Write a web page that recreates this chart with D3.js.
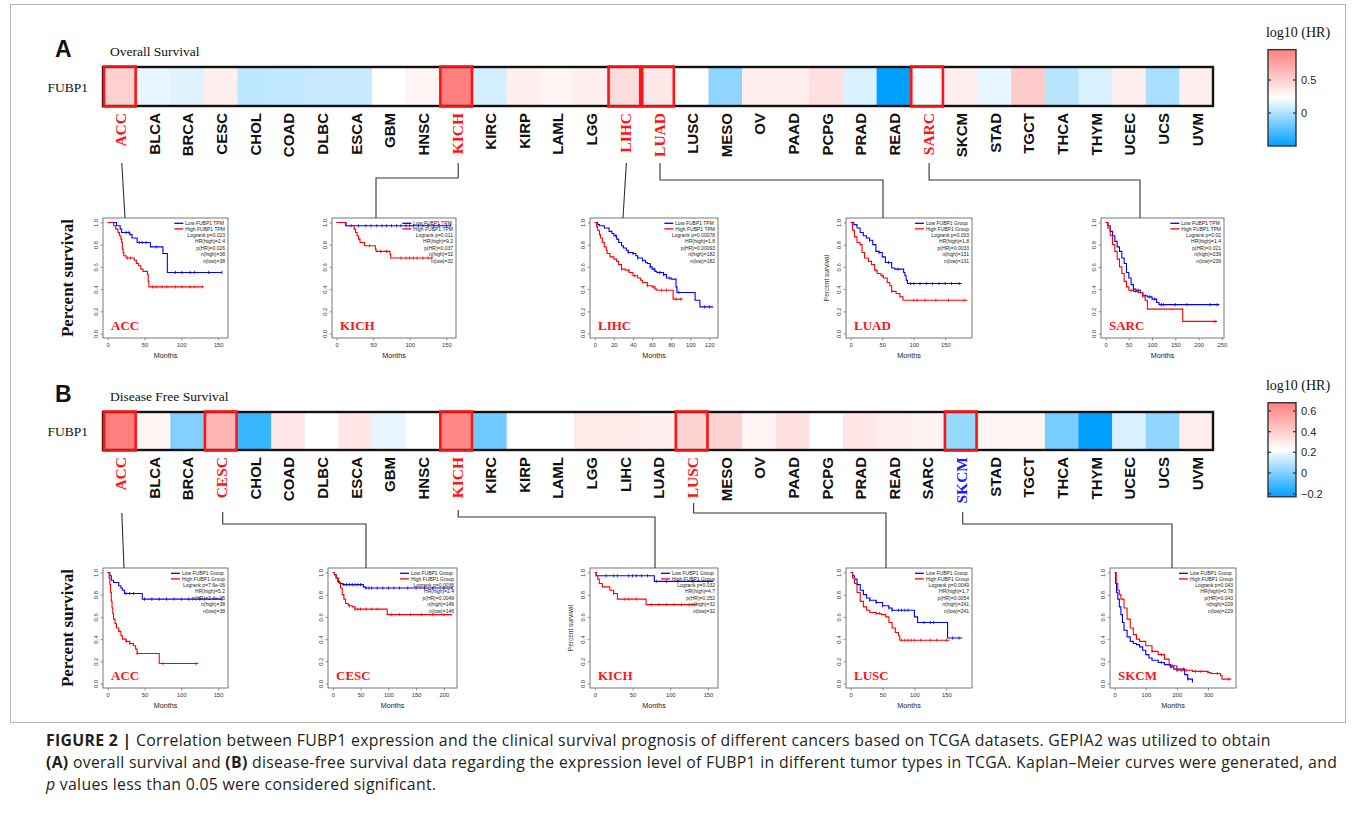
<!DOCTYPE html>
<html><head><meta charset="utf-8">
<script src="https://cdn.jsdelivr.net/npm/d3@7"></script>
<style>body{margin:0;background:#fff}svg{display:block}</style>
</head><body>
<svg id="c" width="1355" height="820"></svg>
<script>
// ---------------- DATA ----------------
const cancers = ["ACC","BLCA","BRCA","CESC","CHOL","COAD","DLBC","ESCA","GBM","HNSC","KICH","KIRC","KIRP","LAML","LGG","LIHC","LUAD","LUSC","MESO","OV","PAAD","PCPG","PRAD","READ","SARC","SKCM","STAD","TGCT","THCA","THYM","UCEC","UCS","UVM"];
// log10(HR), overall survival
const osLogHR = [0.50,0.16,0.14,0.32,0.04,0.05,0.07,0.07,0.23,0.29,0.96,0.10,0.32,0.29,0.32,0.43,0.36,0.23,-0.09,0.33,0.33,0.41,0.12,-0.50,0.21,0.32,0.16,0.52,0.03,0.12,0.32,-0.02,0.32];
// log10(HR), disease free survival
const dfsLogHR = [0.68,0.26,0.00,0.49,-0.13,0.31,0.225,0.31,0.18,0.225,0.65,-0.03,0.225,0.225,0.30,0.30,0.28,0.38,0.38,0.265,0.33,0.225,0.31,0.29,0.27,0.04,0.265,0.265,-0.015,-0.23,0.155,0.025,0.29];
const osSignificant = ["ACC","KICH","LIHC","LUAD","SARC"];
const dfsSignificant = ["ACC","CESC","KICH","LUSC","SKCM"];
const dfsFavourable = ["SKCM"];
const osColorDomain = [-0.5, 0.23, 0.96];
const dfsColorDomain = [-0.23, 0.225, 0.68];
const osBarTicks = [0, 0.5];
const dfsBarTicks = [-0.2, 0, 0.2, 0.4, 0.6];
const probTicks = [0, 0.2, 0.4, 0.6, 0.8, 1.0];

// Kaplan-Meier curves: [months, survival]
const osAccLow  = [[0,1],[12,0.97],[17,0.94],[19,0.91],[30,0.89],[33,0.86],[40,0.82],[58,0.78],[75,0.72],[81,0.55],[155,0.55]];
const osAccHigh = [[0,1],[8,0.97],[11,0.94],[14,0.91],[16,0.88],[18,0.85],[19,0.82],[20,0.76],[21,0.73],[22,0.70],[25,0.68],[36,0.66],[39,0.63],[42,0.61],[45,0.58],[48,0.56],[54,0.53],[55,0.47],[56,0.42],[130,0.42]];
const osAccLowC = [25,29,43,47,52,66,92,101,112,118,137,155];
const osAccHighC = [27,31,61,66,74,80,92,101,112,118,129];
const osKichLow  = [[0,1],[13,0.97],[156,0.97]];
const osKichHigh = [[0,1],[12,0.97],[24,0.94],[26,0.91],[28,0.88],[30,0.85],[32,0.82],[38,0.79],[53,0.76],[54,0.74],[73,0.71],[74,0.68],[132,0.68]];
const osKichLowC = [20,30,40,47,55,62,68,75,82,88,95,100,105,112,118,125,133,140,150,156];
const osKichHighC = [45,60,68,88,95,100,105,110,118,125,130];
const osLihcLow  = [[0,1],[3,0.98],[5,0.97],[10,0.95],[15,0.92],[18,0.90],[20,0.88],[23,0.85],[25,0.82],[28,0.79],[30,0.77],[33,0.75],[35,0.73],[40,0.72],[43,0.70],[45,0.68],[50,0.66],[53,0.64],[55,0.63],[58,0.60],[60,0.58],[63,0.56],[65,0.55],[72,0.53],[75,0.50],[80,0.49],[85,0.42],[86,0.37],[104,0.37],[105,0.30],[110,0.24],[124,0.24]];
const osLihcHigh = [[0,1],[2,0.96],[3,0.93],[5,0.89],[6,0.86],[8,0.82],[10,0.78],[12,0.75],[13,0.72],[16,0.69],[20,0.67],[23,0.65],[25,0.62],[28,0.58],[32,0.57],[36,0.55],[40,0.52],[45,0.50],[48,0.48],[50,0.46],[55,0.43],[60,0.42],[63,0.40],[65,0.39],[81,0.39],[82,0.31],[92,0.31]];
const osLihcLowC = [22,35,40,45,50,58,62,68,72,78,88,115,120];
const osLihcHighC = [28,35,42,55,62,70,75,85,90];
const osLuadLow  = [[0,1],[5,0.98],[10,0.95],[15,0.91],[20,0.88],[25,0.86],[30,0.84],[35,0.80],[40,0.74],[45,0.73],[50,0.69],[55,0.64],[63,0.64],[65,0.59],[70,0.58],[82,0.58],[84,0.55],[86,0.52],[88,0.48],[90,0.45],[176,0.45]];
const osLuadHigh = [[0,1],[3,0.93],[6,0.87],[10,0.82],[15,0.80],[18,0.73],[22,0.68],[28,0.65],[33,0.62],[38,0.57],[42,0.54],[48,0.52],[52,0.50],[58,0.46],[62,0.43],[65,0.38],[72,0.36],[78,0.33],[83,0.30],[185,0.30]];
const osLuadLowC = [30,45,60,75,95,100,110,120,130,140,150,160,172];
const osLuadHighC = [40,50,65,100,105,118,135,155,180];
const osSarcLow  = [[0,1],[5,0.97],[10,0.92],[15,0.88],[20,0.83],[25,0.78],[30,0.74],[35,0.68],[40,0.63],[45,0.55],[50,0.50],[55,0.44],[60,0.40],[65,0.39],[75,0.37],[80,0.34],[90,0.33],[100,0.31],[110,0.28],[115,0.26],[245,0.26]];
const osSarcHigh = [[0,1],[5,0.95],[10,0.88],[15,0.80],[20,0.74],[25,0.67],[30,0.60],[35,0.54],[40,0.47],[45,0.42],[50,0.39],[60,0.38],[70,0.37],[80,0.34],[85,0.30],[90,0.22],[165,0.22],[166,0.11],[240,0.11]];
const osSarcLowC = [60,70,80,85,95,105,120,125,150,175,225,240];
const osSarcHighC = [55,65,75,80,235];

const dfsAccLow  = [[0,1],[3,0.97],[5,0.93],[8,0.91],[15,0.88],[18,0.86],[20,0.84],[23,0.81],[45,0.81],[47,0.76],[155,0.76]];
const dfsAccHigh = [[0,1],[2,0.95],[3,0.89],[4,0.82],[5,0.74],[6,0.68],[7,0.63],[8,0.58],[10,0.54],[12,0.50],[15,0.47],[18,0.43],[20,0.40],[25,0.38],[30,0.36],[35,0.34],[38,0.31],[40,0.27],[68,0.27],[70,0.18],[123,0.18]];
const dfsAccLowC = [25,30,35,50,60,70,80,90,100,110,125,155];
const dfsAccHighC = [25,30,40,75,120];
const dfsCescLow  = [[0,1],[3,0.98],[6,0.95],[9,0.92],[12,0.90],[18,0.89],[55,0.87],[58,0.86],[215,0.86]];
const dfsCescHigh = [[0,1],[3,0.98],[6,0.95],[10,0.91],[14,0.86],[17,0.80],[20,0.76],[23,0.72],[28,0.70],[35,0.69],[40,0.67],[95,0.67],[98,0.62],[215,0.62]];
const dfsCescLowC = [20,25,30,35,40,45,50,60,65,70,80,90,100,110,120,135,150,165,180,200,215];
const dfsCescHighC = [30,40,45,50,60,70,80,105,120,140,160,180,200];
const dfsKichLow  = [[0,1],[2,0.97],[78,0.97],[79,0.92],[157,0.92]];
const dfsKichHigh = [[0,1],[2,0.97],[4,0.94],[6,0.90],[10,0.87],[20,0.84],[25,0.81],[30,0.76],[67,0.76],[68,0.71],[135,0.71]];
const dfsKichLowC = [15,25,30,45,50,55,62,70,82,95,110,130,150];
const dfsKichHighC = [25,40,45,55,75,85,95,105,115,125];
const dfsLuscLow  = [[0,1],[3,0.97],[6,0.94],[10,0.89],[15,0.84],[20,0.80],[25,0.77],[30,0.75],[40,0.73],[50,0.70],[60,0.68],[65,0.66],[97,0.66],[100,0.60],[105,0.55],[150,0.55],[152,0.41],[175,0.41]];
const dfsLuscHigh = [[0,1],[3,0.95],[6,0.90],[10,0.82],[15,0.74],[20,0.69],[25,0.66],[30,0.64],[40,0.63],[48,0.62],[55,0.60],[60,0.55],[65,0.50],[70,0.46],[75,0.43],[77,0.39],[155,0.39]];
const dfsLuscLowC = [30,40,50,60,65,75,80,85,90,115,125,130,160,170];
const dfsLuscHighC = [40,45,80,85,90,95,100,110,125,135,150];
const dfsSkcmLow  = [[0,1],[3,0.90],[6,0.82],[10,0.76],[15,0.69],[20,0.62],[25,0.55],[30,0.48],[40,0.42],[50,0.38],[60,0.36],[70,0.35],[80,0.33],[90,0.30],[100,0.26],[110,0.23],[120,0.21],[140,0.19],[160,0.17],[180,0.15],[190,0.13],[220,0.13],[225,0.08],[235,0.04],[245,0.04],[250,0.01]];
const dfsSkcmHigh = [[0,1],[5,0.90],[10,0.84],[15,0.80],[20,0.76],[30,0.68],[40,0.58],[50,0.50],[60,0.44],[70,0.40],[80,0.38],[100,0.34],[120,0.29],[140,0.26],[160,0.22],[175,0.16],[200,0.12],[250,0.11],[300,0.10],[310,0.09],[340,0.07],[345,0.04],[375,0.04]];
const dfsSkcmLowC = [150,180,200,222,235];
const dfsSkcmHighC = [120,150,185,200,215,230,260,275,300,330,365];

const tpmLegend = ["Low FUBP1 TPM","High FUBP1 TPM"];
const groupLegend = ["Low FUBP1 Group","High FUBP1 Group"];
const osAccStats  = ["Logrank p=0.023","HR(high)=2.4","p(HR)=0.026","n(high)=38","n(low)=38"];
const osKichStats = ["Logrank p=0.011","HR(high)=9.2","p(HR)=0.037","n(high)=32","n(low)=32"];
const osLihcStats = ["Logrank p=0.00078","HR(high)=1.8","p(HR)=0.00093","n(high)=182","n(low)=182"];
const osLuadStats = ["Logrank p=0.003","HR(high)=1.8","p(HR)=0.0033","n(high)=131","n(low)=131"];
const osSarcStats = ["Logrank p=0.02","HR(high)=1.4","p(HR)=0.021","n(high)=239","n(low)=239"];
const dfsAccStats  = ["Logrank p=7.6e-06","HR(high)=5.2","p(HR)=3.4e-05","n(high)=38","n(low)=38"];
const dfsCescStats = ["Logrank p=0.0036","HR(high)=2.4","p(HR)=0.0049","n(high)=146","n(low)=146"];
const dfsKichStats = ["Logrank p=0.032","HR(high)=4.7","p(HR)=0.052","n(high)=32","n(low)=32"];
const dfsLuscStats = ["Logrank p=0.0049","HR(high)=1.7","p(HR)=0.0054","n(high)=241","n(low)=241"];
const dfsSkcmStats = ["Logrank p=0.043","HR(high)=0.78","p(HR)=0.043","n(high)=229","n(low)=229"];

// ---------------- DRAWING ----------------
const svg = d3.select("#c");
const SERIF = "'Liberation Serif','Times New Roman',serif";
const SANS = "'Liberation Sans',Arial,Helvetica,sans-serif";
const CAPFONT = "'Open Sans','Liberation Sans',Arial,sans-serif";
const RED = "#ff1414", BLUE = "#1a1aff";
svg.append("rect").attr("width",1355).attr("height",820).attr("fill","#fff");
// figure frame
svg.append("rect").attr("x",10.5).attr("y",4.5).attr("width",1335).attr("height",718).attr("fill","none").attr("stroke","#b5b5b5").attr("stroke-width",1);

const xBand = d3.scaleBand().domain(cancers).range([103,1213]);

function heatmap(o){
  const g = svg.append("g");
  const color = d3.scaleLinear().domain(o.domain).range(["#00a0ff","#ffffff","#ff7f7f"]);
  g.append("text").attr("x",55).attr("y",o.top-10).attr("font-family",SANS).attr("font-weight","bold").attr("font-size",23).attr("fill","#111").text(o.letter);
  g.append("text").attr("x",110).attr("y",o.top-11).attr("font-family",SERIF).attr("font-size",13.5).attr("fill","#111").text(o.title);
  g.append("text").attr("x",88).attr("y",o.top+o.h/2+5).attr("text-anchor","end").attr("font-family",SERIF).attr("font-size",13.5).attr("fill","#111").text("FUBP1");
  g.selectAll("rect.cell").data(cancers).join("rect").attr("class","cell")
    .attr("x",d=>xBand(d)).attr("y",o.top).attr("width",xBand.bandwidth()+0.6).attr("height",o.h)
    .attr("fill",(d,i)=>color(o.values[i]));
  g.append("rect").attr("x",xBand.range()[0]).attr("y",o.top).attr("width",xBand.range()[1]-xBand.range()[0]).attr("height",o.h)
    .attr("fill","none").attr("stroke","#111").attr("stroke-width",2.4);
  g.selectAll("rect.sig").data(o.sig).join("rect").attr("class","sig")
    .attr("x",d=>xBand(d)+1).attr("y",o.top-0.5).attr("width",xBand.bandwidth()-2).attr("height",o.h+1)
    .attr("fill","none").attr("stroke",RED).attr("stroke-width",2.6);
  g.selectAll("text.lab").data(cancers).join("text").attr("class","lab")
    .attr("transform",d=>`translate(${xBand(d)+xBand.bandwidth()/2+1},${o.top+o.h+7}) rotate(-90)`)
    .attr("text-anchor","end").attr("dy","0.36em")
    .attr("font-family",d=>o.sig.includes(d)?SERIF:SANS)
    .attr("font-weight","bold")
    .attr("font-size",d=>o.sig.includes(d)?15.5:15)
    .attr("fill",d=>o.sig.includes(d)?(o.fav.includes(d)?BLUE:RED):"#111")
    .text(d=>d);
  // colour bar: value scale fixed by two reference ticks
  const by = d3.scaleLinear().domain(o.barRefVals).range(o.barRefY);
  const yTop = by(o.domain[2]), yBot = by(o.domain[0]);
  const gid = "grad"+o.letter;
  const grad = svg.append("defs").append("linearGradient").attr("id",gid).attr("x1",0).attr("x2",0).attr("y1",1).attr("y2",0);
  o.domain.forEach(v=>grad.append("stop").attr("offset",(v-o.domain[0])/(o.domain[2]-o.domain[0])).attr("stop-color",color(v)));
  g.append("text").attr("x",1298).attr("y",yTop-13).attr("text-anchor","middle").attr("font-family",SERIF).attr("font-size",14).attr("fill","#111").text("log10 (HR)");
  g.append("rect").attr("x",1268).attr("y",yTop).attr("width",28).attr("height",yBot-yTop).attr("fill",`url(#${gid})`).attr("stroke","#333").attr("stroke-width",1.4);
  const ax = g.append("g").attr("transform","translate(1296,0)").call(d3.axisRight(by).tickValues(o.barTicks).tickSize(0).tickPadding(5).tickFormat(d3.format("~g")));
  ax.select(".domain").remove();
  ax.selectAll("text").attr("font-family",SANS).attr("font-size",11).attr("fill","#222");
  o.barTicks.forEach(t=>{
    g.append("line").attr("x1",1268).attr("x2",1271).attr("y1",by(t)).attr("y2",by(t)).attr("stroke","#333").attr("stroke-width",1.2);
    g.append("line").attr("x1",1293).attr("x2",1296).attr("y1",by(t)).attr("y2",by(t)).attr("stroke","#333").attr("stroke-width",1.2);
  });
}

heatmap({letter:"A",title:"Overall Survival",top:67,h:39,values:osLogHR,domain:osColorDomain,sig:osSignificant,fav:[],barTicks:osBarTicks,barRefVals:[0,0.5],barRefY:[113,80]});
heatmap({letter:"B",title:"Disease Free Survival",top:412,h:38,values:dfsLogHR,domain:dfsColorDomain,sig:dfsSignificant,fav:dfsFavourable,barTicks:dfsBarTicks,barRefVals:[0,0.6],barRefY:[473,411]});

function stepAt(curve,t){let s=curve[0][1];for(const p of curve){if(p[0]<=t)s=p[1];}return s;}

function km(p){
  const g = svg.append("g");
  const x = d3.scaleLinear().domain([-0.04*p.xMax,1.04*p.xMax]).range([p.x0,p.x0+p.w]);
  const y = d3.scaleLinear().domain([-0.04,1.04]).range([p.y0+p.h,p.y0]);
  const xa = g.append("g").attr("transform",`translate(0,${p.y0+p.h})`)
    .call(d3.axisBottom(x).tickValues(p.xTicks).tickSize(2.5).tickPadding(2.5));
  xa.select(".domain").remove();
  xa.selectAll("text").attr("font-family",SANS).attr("font-size",5.8).attr("fill","#333");
  xa.selectAll("line").attr("stroke","#555").attr("stroke-width",0.6);
  const ya = g.append("g").attr("transform",`translate(${p.x0},0)`)
    .call(d3.axisLeft(y).tickValues(probTicks).tickSize(2.5).tickFormat(d3.format(".1f")));
  ya.select(".domain").remove();
  ya.selectAll("line").attr("stroke","#555").attr("stroke-width",0.6);
  ya.selectAll("text").attr("transform","rotate(-90)").attr("x",0).attr("y",-5).attr("dy",0)
    .style("text-anchor","middle").attr("font-family",SANS).attr("font-size",5.8).attr("fill","#333");
  g.append("text").attr("x",p.x0+p.w/2).attr("y",p.y0+p.h+20).attr("text-anchor","middle")
    .attr("font-family",SANS).attr("font-size",7.2).attr("fill","#222").text("Months");
  if(p.ylab){
    g.append("text").attr("transform",`translate(${p.x0-17},${p.y0+p.h/2}) rotate(-90)`).attr("text-anchor","middle")
      .attr("font-family",SANS).attr("font-size",6.5).attr("fill","#333").text("Percent survival");
  }
  const line = d3.line().x(d=>x(d[0])).y(d=>y(d[1])).curve(d3.curveStepAfter);
  [[p.low,p.lowC,"#0000ff"],[p.high,p.highC,"#ff0000"]].forEach(([c,cens,col])=>{
    g.append("path").attr("d",line(c)).attr("fill","none").attr("stroke",col).attr("stroke-width",1.1);
    g.selectAll(null).data(cens).join("line")
      .attr("x1",t=>x(t)).attr("x2",t=>x(t)).attr("y1",t=>y(stepAt(c,t))-1.6).attr("y2",t=>y(stepAt(c,t))+1.6)
      .attr("stroke",col).attr("stroke-width",0.8);
  });
  g.append("rect").attr("x",p.x0).attr("y",p.y0).attr("width",p.w).attr("height",p.h)
    .attr("fill","none").attr("stroke","#555").attr("stroke-width",0.8);
  // legend and statistics
  const xr = p.x0+p.w-3;
  const lt = g.selectAll("text.leg").data(p.legend).join("text").attr("class","leg")
    .attr("y",(d,i)=>p.y0+7+i*5.6).attr("font-family",SANS).attr("font-size",5).attr("fill","#222").text(d=>d);
  let mw = 0; lt.each(function(){mw=Math.max(mw,this.getComputedTextLength());});
  lt.attr("x",xr-mw);
  p.legend.forEach((d,i)=>g.append("line").attr("x1",xr-mw-11).attr("x2",xr-mw-2)
    .attr("y1",p.y0+5.3+i*5.6).attr("y2",p.y0+5.3+i*5.6).attr("stroke",i?"#ff0000":"#0000ff").attr("stroke-width",1.3));
  g.selectAll("text.st").data(p.stats).join("text").attr("class","st")
    .attr("x",xr).attr("y",(d,i)=>p.y0+18.5+i*6.5).attr("text-anchor","end")
    .attr("font-family",SANS).attr("font-size",5).attr("fill","#222").text(d=>d);
  g.append("text").attr("x",p.x0+8).attr("y",p.y0+p.h-8).attr("font-family",SERIF).attr("font-weight","bold")
    .attr("font-size",13).attr("fill",RED).text(p.name);
}

const rowA = 218, rowB = 568, kmH = 120;
const t150 = [0,50,100,150];
km({name:"ACC", x0:103,y0:rowA,w:125,h:kmH,xMax:157,xTicks:t150,low:osAccLow,high:osAccHigh,lowC:osAccLowC,highC:osAccHighC,legend:tpmLegend,stats:osAccStats});
km({name:"KICH",x0:332,y0:rowA,w:124,h:kmH,xMax:157,xTicks:t150,low:osKichLow,high:osKichHigh,lowC:osKichLowC,highC:osKichHighC,legend:tpmLegend,stats:osKichStats});
km({name:"LIHC",x0:590,y0:rowA,w:128,h:kmH,xMax:124,xTicks:[0,20,40,60,80,100,120],low:osLihcLow,high:osLihcHigh,lowC:osLihcLowC,highC:osLihcHighC,legend:tpmLegend,stats:osLihcStats});
km({name:"LUAD",x0:846,y0:rowA,w:126,h:kmH,xMax:185,xTicks:t150,low:osLuadLow,high:osLuadHigh,lowC:osLuadLowC,highC:osLuadHighC,legend:groupLegend,stats:osLuadStats,ylab:true});
km({name:"SARC",x0:1101,y0:rowA,w:123,h:kmH,xMax:245,xTicks:[0,50,100,150,200,250],low:osSarcLow,high:osSarcHigh,lowC:osSarcLowC,highC:osSarcHighC,legend:tpmLegend,stats:osSarcStats});
km({name:"ACC", x0:103,y0:rowB,w:125,h:kmH,xMax:157,xTicks:t150,low:dfsAccLow,high:dfsAccHigh,lowC:dfsAccLowC,highC:dfsAccHighC,legend:groupLegend,stats:dfsAccStats});
km({name:"CESC",x0:328,y0:rowB,w:129,h:kmH,xMax:215,xTicks:[0,50,100,150,200],low:dfsCescLow,high:dfsCescHigh,lowC:dfsCescLowC,highC:dfsCescHighC,legend:groupLegend,stats:dfsCescStats});
km({name:"KICH",x0:590,y0:rowB,w:128,h:kmH,xMax:157,xTicks:t150,low:dfsKichLow,high:dfsKichHigh,lowC:dfsKichLowC,highC:dfsKichHighC,legend:groupLegend,stats:dfsKichStats,ylab:true});
km({name:"LUSC",x0:846,y0:rowB,w:126,h:kmH,xMax:183,xTicks:t150,low:dfsLuscLow,high:dfsLuscHigh,lowC:dfsLuscLowC,highC:dfsLuscHighC,legend:groupLegend,stats:dfsLuscStats});
km({name:"SKCM",x0:1110,y0:rowB,w:126,h:kmH,xMax:375,xTicks:[0,100,200,300],low:dfsSkcmLow,high:dfsSkcmHigh,lowC:dfsSkcmLowC,highC:dfsSkcmHighC,legend:groupLegend,stats:dfsSkcmStats});

// big y labels
[rowA,rowB].forEach(r=>svg.append("text").attr("transform",`translate(73,${r+kmH/2}) rotate(-90)`)
  .attr("text-anchor","middle").attr("font-family",SERIF).attr("font-weight","bold").attr("font-size",17).attr("fill","#111").text("Percent survival"));

// connectors: [cancer, start y, elbow y (or null), panel line x, end y]
const links = [
  ["ACC",163,null,125,rowA],["KICH",163,178,376,rowA],["LIHC",163,null,623,rowA],["LUAD",163,180,883,rowA],["SARC",163,180,1140,rowA],
  ["ACC",513,null,124,rowB],["CESC",512,524,366,rowB],["KICH",510,517,655,rowB],["LUSC",503,513,886,rowB],["SKCM",512,524,1172,rowB]
];
links.forEach(([c,y1,ye,px,y2])=>{
  const cx = xBand(c)+xBand.bandwidth()/2+2;
  const pts = ye===null?[[cx,y1],[px,y2]]:[[cx,y1],[cx,ye],[px,ye],[px,y2]];
  svg.append("path").attr("d",d3.line()(pts)).attr("fill","none").attr("stroke","#333").attr("stroke-width",1.1);
});

// caption
const cap = svg.append("text").attr("font-family",CAPFONT).attr("font-size",15.8).attr("letter-spacing",0.3).attr("fill","#231f20");
const l1 = cap.append("tspan").attr("x",46).attr("y",746);
l1.append("tspan").attr("font-weight","bold").text("FIGURE 2 |");
l1.append("tspan").text(" Correlation between FUBP1 expression and the clinical survival prognosis of different cancers based on TCGA datasets. GEPIA2 was utilized to obtain");
const l2 = cap.append("tspan").attr("x",46).attr("y",768);
l2.append("tspan").attr("font-weight","bold").text("(A)");
l2.append("tspan").text(" overall survival and ");
l2.append("tspan").attr("font-weight","bold").text("(B)");
l2.append("tspan").text(" disease-free survival data regarding the expression level of FUBP1 in different tumor types in TCGA. Kaplan–Meier curves were generated, and");
const l3 = cap.append("tspan").attr("x",46).attr("y",790);
l3.append("tspan").attr("font-style","italic").text("p");
l3.append("tspan").text(" values less than 0.05 were considered significant.");
</script>
</body></html>
